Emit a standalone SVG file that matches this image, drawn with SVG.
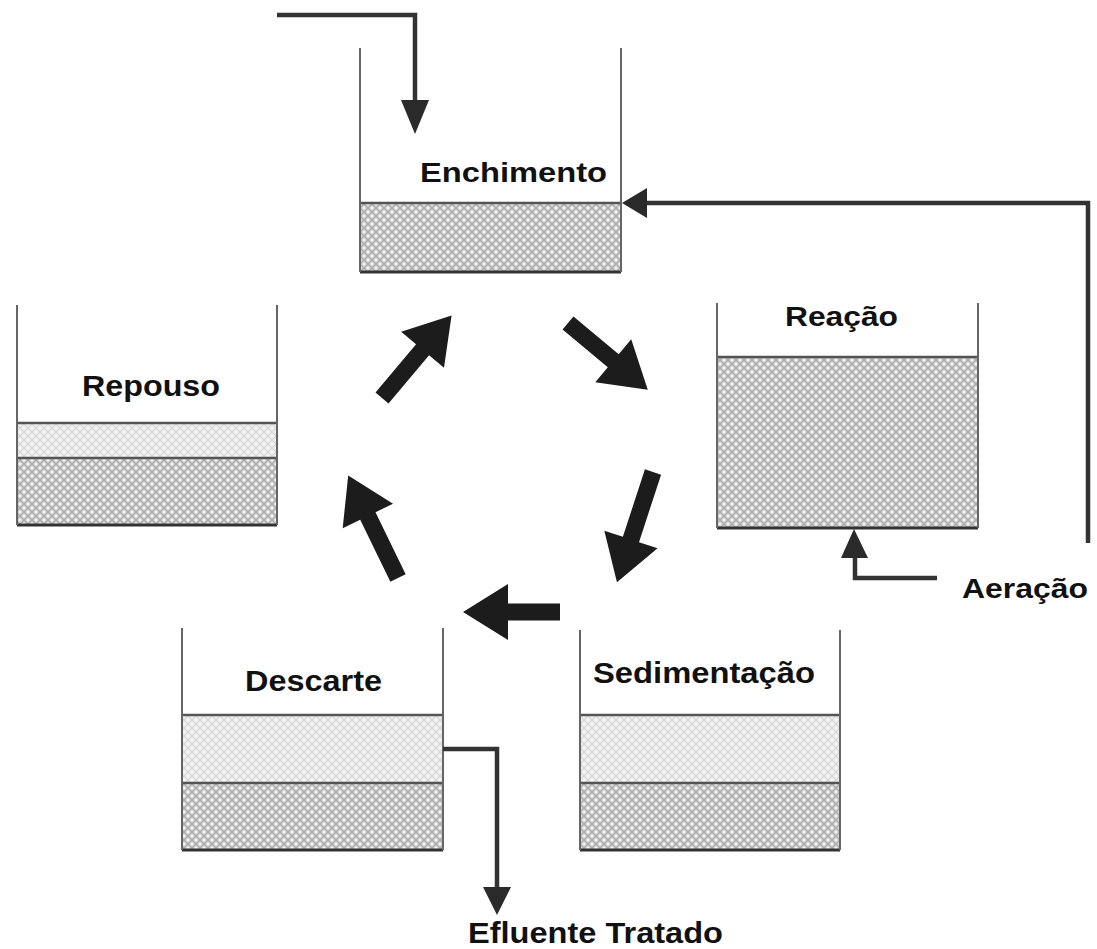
<svg xmlns="http://www.w3.org/2000/svg" width="1097" height="949" viewBox="0 0 1097 949">
<style>
.wall{fill:none;stroke:#666;stroke-width:2}
.lvl{stroke:#555;stroke-width:2.5}
.bot{stroke:#333;stroke-width:3}
.pipe{fill:none;stroke:#333;stroke-width:4.5;stroke-linejoin:miter}
.head{fill:#2a2a2a}
.cyc{fill:#1c1c1c}
.lbl{font-family:"Liberation Sans",Arial,sans-serif;font-weight:bold;fill:#111}
</style>
<defs>
<pattern id="dark" width="8" height="8" patternUnits="userSpaceOnUse">
<rect width="8" height="8" fill="#c2c2c2"/>
<path d="M0,0 L8,8 M8,0 L0,8" stroke="#aaaaaa" stroke-width="1"/>
<circle cx="4" cy="0" r="1.7" fill="#f2f2f2"/>
<circle cx="4" cy="8" r="1.7" fill="#f2f2f2"/>
<circle cx="0" cy="4" r="1.7" fill="#f2f2f2"/>
<circle cx="8" cy="4" r="1.7" fill="#f2f2f2"/>
</pattern>
<pattern id="light" width="8" height="8" patternUnits="userSpaceOnUse">
<rect width="8" height="8" fill="#e9e9e9"/>
<path d="M0,0 L8,8 M8,0 L0,8" stroke="#d6d6d6" stroke-width="1"/>
<circle cx="4" cy="0" r="1.5" fill="#f7f7f7"/>
<circle cx="4" cy="8" r="1.5" fill="#f7f7f7"/>
<circle cx="0" cy="4" r="1.5" fill="#f7f7f7"/>
<circle cx="8" cy="4" r="1.5" fill="#f7f7f7"/>
</pattern>
</defs>
<rect width="1097" height="949" fill="#fff"/>

<g id="enchimento">
<rect x="360" y="203" width="261" height="69" fill="url(#dark)"/>
<line class="lvl" x1="360" y1="203" x2="621" y2="203"/>
<line class="bot" x1="360" y1="272" x2="621" y2="272"/>
<path class="wall" d="M360,48 V272 M621,48 V272"/>
<text class="lbl" x="420" y="182" font-size="28" textLength="187" lengthAdjust="spacingAndGlyphs">Enchimento</text>
</g>

<g id="reacao">
<rect x="717" y="357" width="261" height="171" fill="url(#dark)"/>
<line class="lvl" x1="717" y1="357" x2="978" y2="357"/>
<line class="bot" x1="717" y1="528" x2="978" y2="528"/>
<path class="wall" d="M717,303 V528 M978,303 V528"/>
<text class="lbl" x="785" y="326" font-size="27" textLength="113" lengthAdjust="spacingAndGlyphs">Reação</text>
</g>

<g id="repouso">
<rect x="17" y="423" width="260" height="35" fill="url(#light)"/>
<rect x="17" y="458" width="260" height="67" fill="url(#dark)"/>
<line class="lvl" x1="17" y1="423" x2="277" y2="423"/>
<line class="lvl" x1="17" y1="458" x2="277" y2="458"/>
<line class="bot" x1="17" y1="525" x2="277" y2="525"/>
<path class="wall" d="M17,305 V525 M277,305 V525"/>
<text class="lbl" x="82" y="396" font-size="29" textLength="138" lengthAdjust="spacingAndGlyphs">Repouso</text>
</g>

<g id="descarte">
<rect x="182" y="715" width="261" height="68" fill="url(#light)"/>
<rect x="182" y="783" width="261" height="67" fill="url(#dark)"/>
<line class="lvl" x1="182" y1="715" x2="443" y2="715"/>
<line class="lvl" x1="182" y1="783" x2="443" y2="783"/>
<line class="bot" x1="182" y1="850" x2="443" y2="850"/>
<path class="wall" d="M182,628 V850 M443,628 V850"/>
<text class="lbl" x="245" y="691" font-size="30" textLength="137" lengthAdjust="spacingAndGlyphs">Descarte</text>
</g>

<g id="sedimentacao">
<rect x="580" y="715" width="260" height="68" fill="url(#light)"/>
<rect x="580" y="783" width="260" height="67" fill="url(#dark)"/>
<line class="lvl" x1="580" y1="715" x2="840" y2="715"/>
<line class="lvl" x1="580" y1="783" x2="840" y2="783"/>
<line class="bot" x1="580" y1="850" x2="840" y2="850"/>
<path class="wall" d="M580,630 V850 M840,630 V850"/>
<text class="lbl" x="593" y="683" font-size="29" textLength="222" lengthAdjust="spacingAndGlyphs">Sedimentação</text>
</g>

<g id="aeracao-label">
<text class="lbl" x="962" y="598" font-size="28" textLength="126" lengthAdjust="spacingAndGlyphs">Aeração</text>
</g>
<g id="efluente-label">
<text class="lbl" x="468" y="943" font-size="30" textLength="255" lengthAdjust="spacingAndGlyphs">Efluente Tratado</text>
</g>

<g id="connectors">
<path class="pipe" d="M277,15 H415 V102"/>
<polygon class="head" points="401,100 429,100 415,134"/>
<path class="pipe" d="M1088,543 V203 H645"/>
<polygon class="head" points="647,188 647,218 622,203"/>
<path class="pipe" d="M937,578 H855 V556"/>
<polygon class="head" points="841,558 868,558 854,529"/>
<path class="pipe" d="M443,749 H497 V889"/>
<polygon class="head" points="483,887 511,887 497,915"/>

<path class="cyc" transform="translate(382,398) rotate(-49.9)" d="M0,-8.5 L63,-8.5 L63,-28 L108,0 L63,28 L63,8.5 L0,8.5 Z"/>
<path class="cyc" transform="translate(568,323) rotate(39.9)" d="M0,-8.5 L59,-8.5 L59,-28 L104,0 L59,28 L59,8.5 L0,8.5 Z"/>
<path class="cyc" transform="translate(653,472) rotate(108.1)" d="M0,-8.5 L71,-8.5 L71,-28 L116,0 L71,28 L71,8.5 L0,8.5 Z"/>
<path class="cyc" transform="translate(560,612) rotate(180)" d="M0,-8.5 L52,-8.5 L52,-28 L97,0 L52,28 L52,8.5 L0,8.5 Z"/>
<path class="cyc" transform="translate(398,578) rotate(-115.9)" d="M0,-8.5 L69,-8.5 L69,-28 L114,0 L69,28 L69,8.5 L0,8.5 Z"/>
</g>
</svg>
